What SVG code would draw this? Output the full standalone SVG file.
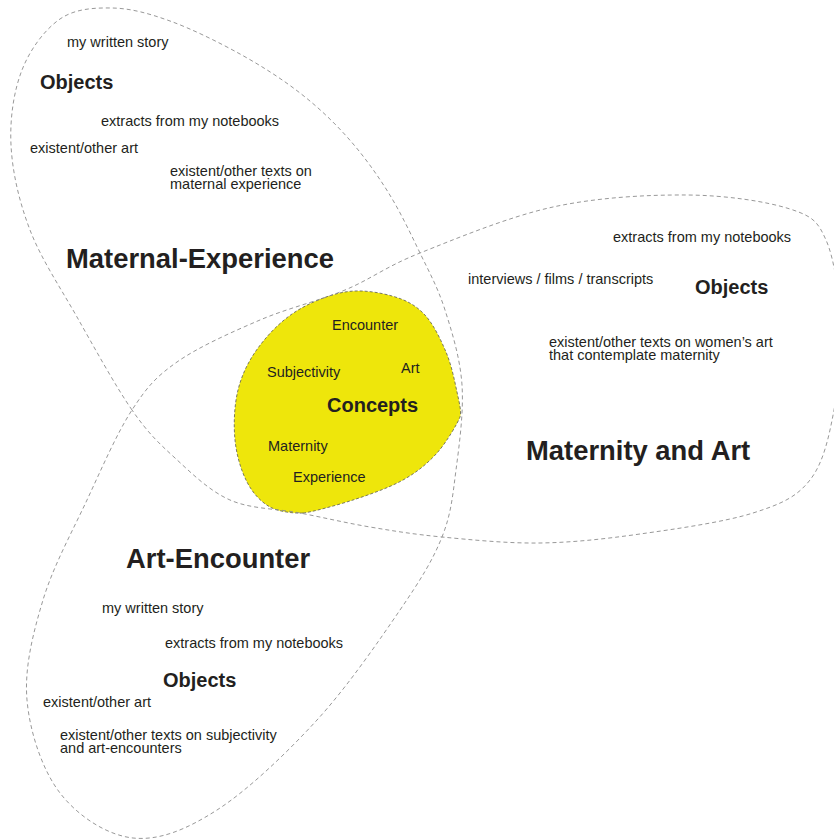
<svg xmlns="http://www.w3.org/2000/svg" width="834" height="840" viewBox="0 0 834 840">
<style>
  text { font-family: "Liberation Sans", Arial, Helvetica, sans-serif; fill: #231f20; }
  .s { font-size: 14.5px; }
  .obj { font-size: 20px; font-weight: bold; }
  .big { font-size: 27.4px; font-weight: bold; }
  .outline { fill: none; stroke: #8c8c8c; stroke-width: 0.9; stroke-dasharray: 4 3; }
  .blob { fill: #eee60b; stroke: #5a5a50; stroke-width: 0.8; stroke-dasharray: 3 2; }
</style>
<rect width="834" height="840" fill="#ffffff"/>

<g id="concepts">
  <path class="blob" d="M303,513 C296,513.5 279.3,512.2 270,507 C260.7,501.8 252.8,493.2 247,482 C241.2,470.8 236.5,455.3 235,440 C233.5,424.7 234.2,405.3 238,390 C241.8,374.7 248.5,361 258,348 C267.5,335 280.5,321.3 295,312 C309.5,302.7 328.8,294.7 345,292 C361.2,289.3 378.8,292.3 392,296 C405.2,299.7 415,304.7 424,314 C433,323.3 440.5,339 446,352 C451.5,365 454.7,381.2 457,392 C459.3,402.8 461.7,412 460,417 C458.3,422 446.5,442.5 437,453 C427.5,463.5 417,472.2 403,480 C389,487.8 369.7,494.5 353,500 C336.3,505.5 310,512.5 303,513 Z"/>
  <text class="s" x="332" y="330">Encounter</text>
  <text class="s" x="267" y="377">Subjectivity</text>
  <text class="s" x="401" y="373">Art</text>
  <text class="obj" x="327" y="412">Concepts</text>
  <text class="s" x="268" y="451">Maternity</text>
  <text class="s" x="293" y="482">Experience</text>
</g>

<g id="outlines">
  <path class="outline" d="M132,410 C115.7,386.5 94,347 77,317 C60,287 41,258.7 30,230 C19,201.3 12.3,171.7 11,145 C9.7,118.3 13.8,91 22,70 C30.2,49 45,29.3 60,19 C75,8.7 93.7,7.7 112,8 C130.3,8.3 148.7,13.3 170,21 C191.3,28.7 218.3,42 240,54 C261.7,66 282,79 300,93 C318,107 333.3,121.5 348,138 C362.7,154.5 376,172.8 388,192 C400,211.2 410.5,233.3 420,253 C429.5,272.7 438,288 445,310 C452,332 460.2,358.3 462,385 C463.8,411.7 459.3,444.7 456,470 C452.7,495.3 451.3,513.7 442,537 C432.7,560.3 420.8,579.5 400,610 C379.2,640.5 347.5,686.7 317,720 C286.5,753.3 247.7,790.3 217,810 C186.3,829.7 159.2,840.8 133,838 C106.8,835.2 77.7,816 60,793 C42.3,770 29.8,732.2 27,700 C24.2,667.8 33,633.3 43,600 C53,566.7 72.2,531.7 87,500 C101.8,468.3 117,433 132,410 C147,387 155.7,377 177,362 C198.3,347 232,332 260,320 C288,308 318.3,301.2 345,290 C371.7,278.8 385.3,266.8 420,253 C454.7,239.2 508.5,216.7 553,207 C597.5,197.3 647.5,194.7 687,195 C726.5,195.3 766.8,201.5 790,209 C813.2,216.5 817.7,221.5 826,240 C834.3,258.5 838.7,291.7 840,320 C841.3,348.3 839,383.3 834,410 C829,436.7 823.5,462.8 810,480 C796.5,497.2 781.3,504 753,513 C724.7,522 675.5,529 640,534 C604.5,539 573,542.5 540,543 C507,543.5 470.3,539.7 442,537 C413.7,534.3 393.7,531 370,527 C346.3,523 323.3,517.5 300,513 C276.7,508.5 250.8,509.2 230,500 C209.2,490.8 191.3,473 175,458 C158.7,443 148.3,433.5 132,410 Z"/>
</g>

<g id="maternal-experience">
  <text class="s" x="67" y="47">my written story</text>
  <text class="obj" x="40" y="89">Objects</text>
  <text class="s" x="101" y="126">extracts from my notebooks</text>
  <text class="s" x="30" y="153">existent/other art</text>
  <text class="s" x="170" y="176">existent/other texts on</text>
  <text class="s" x="170" y="189">maternal experience</text>
  <text class="big" x="66" y="268">Maternal-Experience</text>
</g>

<g id="maternity-and-art">
  <text class="s" x="613" y="242">extracts from my notebooks</text>
  <text class="s" x="468" y="284">interviews / films / transcripts</text>
  <text class="obj" x="695" y="294">Objects</text>
  <text class="s" x="549" y="347">existent/other texts on women’s art</text>
  <text class="s" x="549" y="360">that contemplate maternity</text>
  <text class="big" x="526" y="460">Maternity and Art</text>
</g>

<g id="art-encounter">
  <text class="big" x="126" y="568">Art-Encounter</text>
  <text class="s" x="102" y="613">my written story</text>
  <text class="s" x="165" y="648">extracts from my notebooks</text>
  <text class="obj" x="163" y="687">Objects</text>
  <text class="s" x="43" y="707">existent/other art</text>
  <text class="s" x="60" y="740">existent/other texts on subjectivity</text>
  <text class="s" x="60" y="753">and art-encounters</text>
</g>
</svg>
